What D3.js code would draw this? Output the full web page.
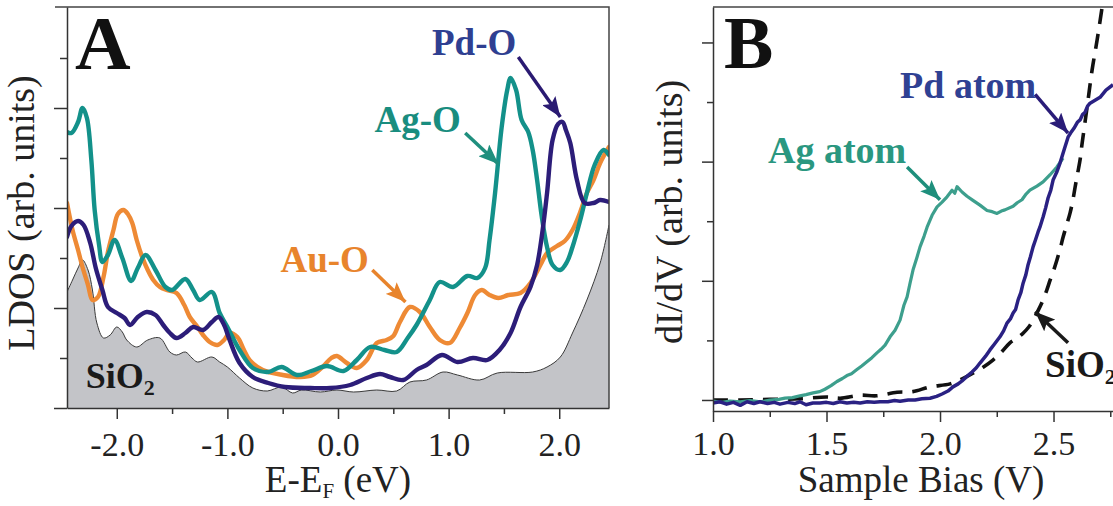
<!doctype html>
<html lang="en">
<head>
<meta charset="utf-8">
<title>LDOS and dI/dV</title>
<style>
  body { margin: 0; background: #fff; }
  svg text { font-family: "Liberation Serif", "Times New Roman", serif; }
  .axis path, .axis line { stroke: #333; stroke-width: 1.5; }
  .frame { stroke: #444; stroke-width: 1.5; fill: none; }
</style>
</head>
<body>
<div id="chart"></div>
<script src="https://cdn.jsdelivr.net/npm/d3@7"></script>
<script>
// ---- panel A : LDOS (x = E-EF in eV, y in arb. units) ----
const agO = [[-2.45,5.52],[-2.41,5.50],[-2.35,5.72],[-2.31,6.00],[-2.27,5.80],[-2.23,4.96],[-2.20,3.96],[-2.16,3.26],
  [-2.13,2.92],[-2.08,3.06],[-2.02,3.36],[-1.95,3.00],[-1.87,2.54],[-1.81,2.80],[-1.74,3.06],[-1.65,2.76],[-1.56,2.42],
  [-1.50,2.36],[-1.38,2.58],[-1.31,2.36],[-1.25,2.16],[-1.14,2.32],[-1.07,1.90],[-1.00,1.62],[-0.89,1.16],[-0.77,0.80],
  [-0.63,0.72],[-0.51,0.82],[-0.37,0.66],[-0.24,0.74],[-0.10,0.84],[0.05,0.74],[0.17,0.96],[0.29,1.22],[0.42,1.16],
  [0.53,1.12],[0.63,1.40],[0.71,1.66],[0.83,2.16],[0.92,2.52],[1.04,2.42],[1.17,2.64],[1.26,2.60],[1.33,2.80],[1.37,3.36],
  [1.42,4.30],[1.48,5.62],[1.53,6.36],[1.56,6.60],[1.61,6.36],[1.66,5.76],[1.72,5.52],[1.76,5.16],[1.80,4.56],[1.84,3.86],
  [1.89,3.22],[1.94,2.86],[2.01,2.76],[2.07,2.92],[2.12,3.22],[2.19,3.76],[2.25,4.30],[2.32,4.86],[2.40,5.16],[2.45,5.06]];

const pdO = [[-2.45,3.42],[-2.41,3.64],[-2.35,3.74],[-2.30,3.66],[-2.24,3.30],[-2.19,2.80],[-2.13,2.36],[-2.08,2.02],
  [-2.00,1.90],[-1.93,1.80],[-1.88,1.66],[-1.81,1.82],[-1.73,1.92],[-1.65,1.86],[-1.58,1.66],[-1.52,1.50],[-1.46,1.40],
  [-1.38,1.50],[-1.31,1.62],[-1.22,1.56],[-1.14,1.72],[-1.08,1.82],[-1.03,1.66],[-0.98,1.36],[-0.89,0.90],[-0.77,0.62],
  [-0.63,0.50],[-0.48,0.42],[-0.25,0.40],[-0.07,0.40],[0.11,0.46],[0.26,0.60],[0.38,0.68],[0.47,0.62],[0.59,0.56],
  [0.71,0.76],[0.80,0.86],[0.94,1.06],[1.08,0.92],[1.22,1.00],[1.35,0.96],[1.46,1.16],[1.56,1.50],[1.65,2.02],[1.74,2.42],
  [1.80,2.86],[1.85,3.56],[1.89,4.30],[1.94,5.36],[1.99,5.68],[2.03,5.72],[2.06,5.56],[2.10,5.30],[2.16,4.56],[2.23,4.10],
  [2.31,4.10],[2.37,4.16],[2.45,4.12]];

const auO = [[-2.45,4.10],[-2.40,3.56],[-2.35,3.16],[-2.31,2.82],[-2.26,2.46],[-2.22,2.16],[-2.17,2.22],[-2.12,2.62],
  [-2.08,3.12],[-2.03,3.56],[-1.99,3.88],[-1.94,3.96],[-1.90,3.88],[-1.86,3.70],[-1.82,3.36],[-1.77,3.02],[-1.72,2.76],
  [-1.67,2.56],[-1.61,2.42],[-1.55,2.36],[-1.46,2.30],[-1.39,2.06],[-1.34,1.82],[-1.27,1.62],[-1.22,1.46],[-1.16,1.32],
  [-1.09,1.26],[-1.03,1.36],[-0.98,1.50],[-0.91,1.42],[-0.85,1.16],[-0.80,0.96],[-0.68,0.76],[-0.50,0.66],[-0.34,0.62],
  [-0.23,0.66],[-0.14,0.82],[-0.06,1.00],[-0.01,1.04],[0.08,0.90],[0.17,0.80],[0.26,0.96],[0.35,1.30],[0.44,1.36],
  [0.50,1.44],[0.56,1.72],[0.65,2.02],[0.74,1.92],[0.83,1.62],[0.92,1.36],[1.01,1.30],[1.10,1.60],[1.17,1.90],[1.24,2.26],
  [1.30,2.36],[1.37,2.26],[1.45,2.20],[1.54,2.26],[1.65,2.30],[1.74,2.50],[1.83,2.86],[1.89,3.10],[1.98,3.24],[2.05,3.34],
  [2.12,3.56],[2.19,3.92],[2.25,4.30],[2.31,4.56],[2.37,4.90],[2.45,5.22]];

const sio2A = [[-2.45,2.32],[-2.40,2.56],[-2.35,2.80],[-2.31,2.96],[-2.26,2.76],[-2.22,2.36],[-2.18,1.70],[-2.12,1.40],
  [-2.06,1.46],[-2.00,1.62],[-1.95,1.52],[-1.91,1.36],[-1.82,1.22],[-1.72,1.36],[-1.61,1.40],[-1.52,1.12],[-1.46,1.06],
  [-1.38,1.12],[-1.32,1.00],[-1.27,0.92],[-1.14,1.02],[-1.07,0.92],[-1.00,0.82],[-0.89,0.60],[-0.77,0.40],[-0.64,0.34],
  [-0.51,0.42],[-0.41,0.30],[-0.33,0.36],[-0.16,0.32],[-0.01,0.36],[0.14,0.32],[0.35,0.36],[0.53,0.34],[0.65,0.52],
  [0.80,0.56],[0.95,0.72],[1.08,0.66],[1.28,0.56],[1.44,0.70],[1.76,0.72],[1.89,0.82],[2.01,1.02],[2.12,1.50],[2.25,2.16],
  [2.37,2.90],[2.45,3.66]];

const xTicksA = [-2, -1, 0, 1, 2];
const xMinorA = [-1.5, -0.5, 0.5, 1.5];

// ---- panel B : dI/dV (x = sample bias in V) ----
const agAtom = [[1.000,-0.02],[1.040,-0.04],[1.075,-0.02],[1.120,-0.03],[1.163,-0.01],[1.210,-0.03],[1.251,0.00],
  [1.290,0.01],[1.317,0.03],[1.350,0.04],[1.383,0.07],[1.410,0.09],[1.441,0.12],[1.470,0.14],[1.493,0.18],[1.520,0.24],
  [1.546,0.31],[1.570,0.36],[1.590,0.41],[1.610,0.44],[1.634,0.51],[1.655,0.57],[1.678,0.64],[1.700,0.71],[1.722,0.79],
  [1.740,0.85],[1.758,0.92],[1.780,1.06],[1.802,1.17],[1.824,1.34],[1.841,1.59],[1.855,1.73],[1.868,1.96],[1.881,2.18],
  [1.899,2.40],[1.912,2.57],[1.930,2.75],[1.943,2.90],[1.965,3.10],[1.987,3.24],[2.009,3.32],[2.031,3.41],[2.053,3.52],
  [2.065,3.47],[2.075,3.58],[2.097,3.49],[2.119,3.42],[2.145,3.35],[2.176,3.27],[2.207,3.18],[2.230,3.16],[2.251,3.13],
  [2.270,3.17],[2.286,3.19],[2.322,3.25],[2.340,3.31],[2.361,3.36],[2.380,3.46],[2.396,3.52],[2.427,3.59],[2.454,3.66],
  [2.485,3.78],[2.515,3.91],[2.542,4.06]];

const pdAtom = [[1.000,-0.05],[1.030,-0.03],[1.060,-0.07],[1.090,-0.04],[1.120,-0.09],[1.150,-0.03],[1.180,-0.06],
  [1.207,-0.03],[1.240,-0.06],[1.270,-0.04],[1.295,-0.07],[1.330,-0.04],[1.360,-0.06],[1.383,-0.03],[1.410,-0.08],
  [1.440,-0.05],[1.471,-0.05],[1.500,-0.04],[1.530,-0.06],[1.559,-0.03],[1.590,-0.05],[1.620,-0.04],[1.648,-0.05],
  [1.680,-0.03],[1.710,-0.04],[1.736,-0.03],[1.770,-0.03],[1.800,-0.01],[1.824,-0.02],[1.860,0.00],[1.890,0.00],
  [1.920,0.02],[1.956,0.03],[1.985,0.06],[2.009,0.10],[2.035,0.15],[2.057,0.22],[2.080,0.27],[2.097,0.32],[2.120,0.40],
  [2.141,0.47],[2.160,0.54],[2.176,0.62],[2.200,0.73],[2.220,0.84],[2.240,0.94],[2.264,1.06],[2.280,1.16],[2.295,1.29],
  [2.310,1.36],[2.322,1.46],[2.333,1.52],[2.344,1.68],[2.356,1.80],[2.366,1.96],[2.378,2.10],[2.388,2.27],[2.398,2.40],
  [2.410,2.57],[2.420,2.68],[2.432,2.82],[2.440,2.90],[2.454,3.07],[2.465,3.22],[2.476,3.39],[2.488,3.52],[2.498,3.69],
  [2.515,3.83],[2.529,3.98],[2.546,4.19],[2.564,4.41],[2.575,4.48],[2.590,4.56],[2.605,4.66],[2.617,4.70],[2.628,4.79],
  [2.639,4.83],[2.650,4.93],[2.661,4.98],[2.683,5.03],[2.705,5.08],[2.731,5.20],[2.762,5.29]];

const sio2B = [[1.000,0.00],[1.119,0.00],[1.251,0.01],[1.383,0.02],[1.502,0.05],[1.560,0.03],[1.648,0.08],
  [1.720,0.07],[1.811,0.13],[1.880,0.14],[1.956,0.22],[2.044,0.27],[2.100,0.36],[2.145,0.45],[2.190,0.55],[2.233,0.67],
  [2.270,0.80],[2.308,0.96],[2.340,1.04],[2.366,1.12],[2.390,1.22],[2.410,1.34],[2.432,1.50],[2.454,1.68],[2.470,1.84],
  [2.485,2.01],[2.500,2.17],[2.515,2.35],[2.530,2.55],[2.542,2.73],[2.558,2.94],[2.573,3.14],[2.585,3.35],[2.595,3.57],
  [2.606,3.80],[2.617,4.03],[2.625,4.28],[2.634,4.53],[2.652,5.03],[2.670,5.54],[2.692,6.04],[2.714,6.59],[2.730,7.00]];

const xTicksB = [1.0, 1.5, 2.0, 2.5];
const xMinorB = [1.25, 1.75, 2.25, 2.75];

// annotations: label anchor [x, y] and arrow [from, to], in data units
const notesA = [
  { text: "Pd-O", color: "#2f3f91", arrow: "#2a1a72", at: [0.85, 7.06], from: [1.63, 7.02], to: [2.01, 5.82] },
  { text: "Ag-O", color: "#198d7f", arrow: "#1f8f7e", at: [0.33, 5.52], from: [1.15, 5.50], to: [1.45, 4.88] },
  { text: "Au-O", color: "#e8842c", arrow: "#e8842c", at: [-0.52, 2.72], from: [0.31, 2.76], to: [0.61, 2.12] }
];
const notesB = [
  { text: "Pd atom", color: "#2f4193", arrow: "#2a1c78", at: [1.824, 5.07], from: [2.419, 5.13], to: [2.564, 4.48] },
  { text: "Ag atom", color: "#2a9780", arrow: "#1e8f7c", at: [1.242, 3.98], from: [1.855, 3.91], to: [2.0, 3.36] }
];

const W = 1113, H = 506;
const svg = d3.select('#chart').append('svg').attr('width', W).attr('height', H);

const defs = svg.append('defs');
function marker(id, color) {
  defs.append('marker')
    .attr('id', id).attr('viewBox', '0 0 20 16').attr('refX', 20).attr('refY', 8)
    .attr('markerWidth', 20).attr('markerHeight', 16).attr('markerUnits', 'userSpaceOnUse')
    .attr('orient', 'auto')
    .append('path').attr('d', 'M0,0 L20,8 L0,16 L4,8 Z').attr('fill', color);
}

// scales
const xA = d3.scaleLinear().domain([-2.45, 2.45]).range([67, 609]);
const yA = d3.scaleLinear().domain([0, 8.02]).range([408, 7]);
const xB = d3.scaleLinear().domain([1.0, 2.762]).range([713, 1113]);
const yB = d3.scaleLinear().domain([-0.185, 6.595]).range([411, 7]);

defs.append('clipPath').attr('id', 'clipA').append('rect')
  .attr('x', 67).attr('y', 7).attr('width', 542).attr('height', 401);
defs.append('clipPath').attr('id', 'clipB').append('rect')
  .attr('x', 713).attr('y', 7).attr('width', 400).attr('height', 404);

// ---------- panel A ----------
const gA = svg.append('g');
const plotA = gA.append('g').attr('clip-path', 'url(#clipA)');

plotA.append('path').datum(sio2A)
  .attr('d', d3.area().x(d => xA(d[0])).y0(yA(0)).y1(d => yA(d[1])).curve(d3.curveCatmullRom.alpha(0.5)))
  .attr('fill', '#c3c4c8');
plotA.append('path').datum(sio2A)
  .attr('d', d3.line().x(d => xA(d[0])).y(d => yA(d[1])).curve(d3.curveCatmullRom.alpha(0.5)))
  .attr('fill', 'none').attr('stroke', '#3a3a3a').attr('stroke-width', 1);

const lineA = d3.line().x(d => xA(d[0])).y(d => yA(d[1])).curve(d3.curveCatmullRom.alpha(0.5));
[[auO, '#ee8a35'], [agO, '#13918a'], [pdO, '#2c1d79']].forEach(([data, c]) => {
  plotA.append('path').datum(data).attr('d', lineA)
    .attr('fill', 'none').attr('stroke', c).attr('stroke-width', 4.4)
    .attr('stroke-linejoin', 'round').attr('stroke-linecap', 'round');
});

// frame: top and right
gA.append('path').attr('class', 'frame').attr('d', `M55,${yA.range()[1]}H${xA.range()[1]}V${yA(0)}`);

// axes A
gA.append('g').attr('class', 'axis').attr('transform', `translate(0,${yA(0)})`)
  .call(d3.axisBottom(xA).tickValues(xTicksA).tickSize(11).tickSizeOuter(0).tickFormat(d => d.toFixed(1)))
  .call(g => g.selectAll('text').attr('dy', null).attr('y', 48).attr('fill', '#222')
    .style('font-size', '34px').style('font-family', '"Liberation Serif", serif'));
gA.append('g').attr('class', 'axis').attr('transform', `translate(0,${yA(0)})`)
  .call(d3.axisBottom(xA).tickValues(xMinorA).tickSize(6).tickSizeOuter(0).tickFormat(''))
  .call(g => g.select('.domain').remove());
gA.append('g').attr('class', 'axis').attr('transform', `translate(${xA(-2.45)},0)`)
  .call(d3.axisLeft(yA).tickValues([0, 2, 4, 6]).tickSize(13).tickSizeOuter(0).tickFormat(''));
gA.append('g').attr('class', 'axis').attr('transform', `translate(${xA(-2.45)},0)`)
  .call(d3.axisLeft(yA).tickValues([1, 3, 5, 7]).tickSize(7).tickFormat(''))
  .call(g => g.select('.domain').remove());

// titles A
const tA = gA.append('text').attr('x', xA(0)).attr('y', 492).attr('text-anchor', 'middle')
  .style('font-size', '37px').attr('fill', '#222');
tA.append('tspan').text('E-E');
tA.append('tspan').text('F').style('font-size', '21px').attr('dy', 6);
tA.append('tspan').text(' (eV)').attr('dy', -6);

gA.append('text').attr('transform', 'translate(34,213) rotate(-90)').attr('text-anchor', 'middle')
  .style('font-size', '38px').attr('fill', '#222').text('LDOS (arb. units)');

gA.append('text').attr('x', 75).attr('y', 69).style('font-size', '77px').style('font-weight', 'bold')
  .attr('fill', '#111').text('A');

// annotations A
notesA.forEach((n, i) => {
  marker('mA' + i, n.arrow);
  gA.append('text').attr('x', xA(n.at[0])).attr('y', yA(n.at[1]))
    .style('font-size', '37px').style('font-weight', 'bold').attr('fill', n.color).text(n.text);
  gA.append('line').attr('x1', xA(n.from[0])).attr('y1', yA(n.from[1]))
    .attr('x2', xA(n.to[0])).attr('y2', yA(n.to[1]))
    .attr('stroke', n.arrow).attr('stroke-width', 3.5).attr('marker-end', `url(#mA${i})`);
});
const sA = gA.append('text').attr('x', xA(-2.28)).attr('y', yA(0.40))
  .style('font-size', '36px').style('font-weight', 'bold').attr('fill', '#1a1a1a');
sA.append('tspan').text('SiO');
sA.append('tspan').text('2').style('font-size', '22px').attr('dy', 7);

// ---------- panel B ----------
const gB = svg.append('g');
const plotB = gB.append('g').attr('clip-path', 'url(#clipB)');
const lineB = d3.line().x(d => xB(d[0])).y(d => yB(d[1]));

plotB.append('path').datum(sio2B)
  .attr('d', lineB.curve(d3.curveCatmullRom.alpha(0.5)))
  .attr('fill', 'none').attr('stroke', '#111').attr('stroke-width', 3.6).attr('stroke-dasharray', '15,10');
lineB.curve(d3.curveLinear);
plotB.append('path').datum(agAtom).attr('d', lineB)
  .attr('fill', 'none').attr('stroke', '#3d9f8d').attr('stroke-width', 3.2).attr('stroke-linejoin', 'round');
plotB.append('path').datum(pdAtom).attr('d', lineB)
  .attr('fill', 'none').attr('stroke', '#2a2183').attr('stroke-width', 3.5).attr('stroke-linejoin', 'round');

gB.append('path').attr('class', 'frame').attr('d', `M${xB(1.0)},${yB.range()[1]}H${W}`);

gB.append('g').attr('class', 'axis').attr('transform', `translate(0,${yB.range()[0]})`)
  .call(d3.axisBottom(xB).tickValues(xTicksB).tickSize(11).tickSizeOuter(0).tickFormat(d => d.toFixed(1)))
  .call(g => g.selectAll('text').attr('dy', null).attr('y', 44).attr('fill', '#222')
    .style('font-size', '34px').style('font-family', '"Liberation Serif", serif'));
gB.append('g').attr('class', 'axis').attr('transform', `translate(0,${yB.range()[0]})`)
  .call(d3.axisBottom(xB).tickValues(xMinorB).tickSize(6).tickFormat(''))
  .call(g => g.select('.domain').remove());
gB.append('g').attr('class', 'axis').attr('transform', `translate(${xB(1.0)},0)`)
  .call(d3.axisLeft(yB).tickValues([0, 2, 4, 6]).tickSize(11).tickSizeOuter(0).tickFormat(''));
gB.append('g').attr('class', 'axis').attr('transform', `translate(${xB(1.0)},0)`)
  .call(d3.axisLeft(yB).tickValues([1, 3, 5]).tickSize(6).tickFormat(''))
  .call(g => g.select('.domain').remove());

gB.append('text').attr('x', 921).attr('y', 492).attr('text-anchor', 'middle')
  .style('font-size', '37px').attr('fill', '#222').text('Sample Bias (V)');
gB.append('text').attr('transform', 'translate(682,212) rotate(-90)').attr('text-anchor', 'middle')
  .style('font-size', '38px').attr('fill', '#222').text('dI/dV (arb. units)');

gB.append('text').attr('x', 724).attr('y', 68).style('font-size', '74px').style('font-weight', 'bold')
  .attr('fill', '#111').text('B');

notesB.forEach((n, i) => {
  marker('mB' + i, n.arrow);
  gB.append('text').attr('x', xB(n.at[0])).attr('y', yB(n.at[1]))
    .style('font-size', '38px').style('font-weight', 'bold').attr('fill', n.color).text(n.text);
  gB.append('line').attr('x1', xB(n.from[0])).attr('y1', yB(n.from[1]))
    .attr('x2', xB(n.to[0])).attr('y2', yB(n.to[1]))
    .attr('stroke', n.arrow).attr('stroke-width', 3.5).attr('marker-end', `url(#mB${i})`);
});
marker('mBs', '#1a1a1a');
gB.append('line').attr('x1', xB(2.564)).attr('y1', yB(0.96)).attr('x2', xB(2.419)).attr('y2', yB(1.48))
  .attr('stroke', '#1a1a1a').attr('stroke-width', 3.5).attr('marker-end', 'url(#mBs)');
const sB = gB.append('text').attr('x', xB(2.463)).attr('y', yB(0.39))
  .style('font-size', '37px').style('font-weight', 'bold').attr('fill', '#1a1a1a');
sB.append('tspan').text('SiO');
sB.append('tspan').text('2').style('font-size', '22px').attr('dy', 7);
</script>
</body>
</html>
